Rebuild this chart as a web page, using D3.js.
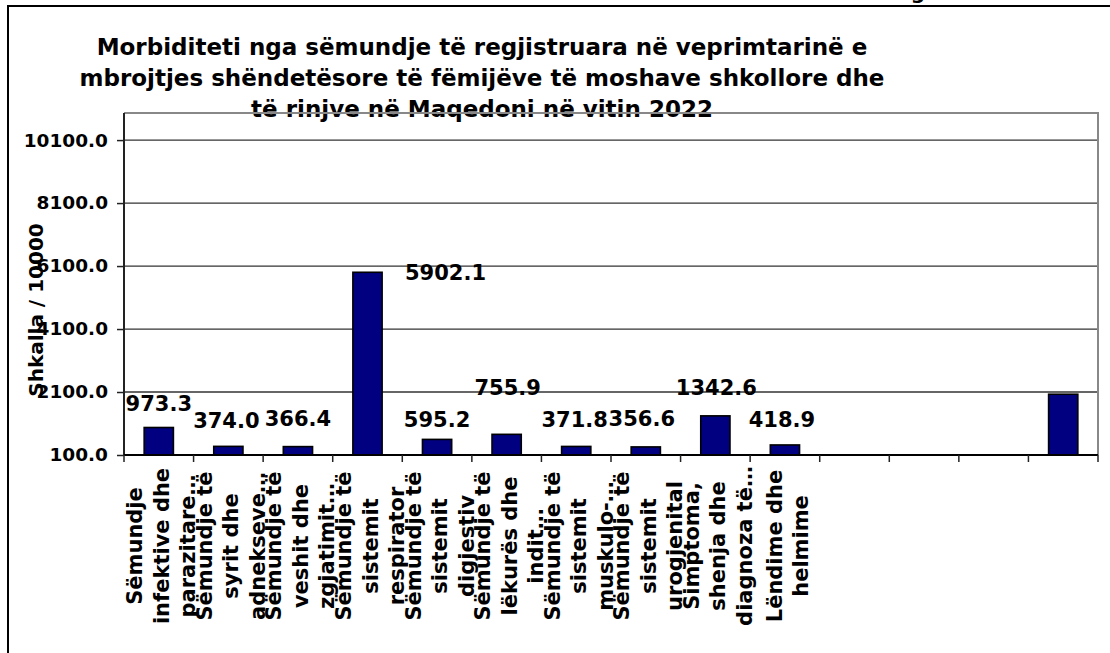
<!DOCTYPE html>
<html lang="sq">
<head>
  <meta charset="UTF-8">
  <title>Morbiditeti 2022</title>
  <script src="https://d3js.org/d3.v7.min.js"></script>
  <style>
    body { margin: 0; background: #fff; }
    svg text { font-family: "DejaVu Sans", Verdana, sans-serif; font-weight: bold; fill: #000; }
  </style>
</head>
<body>
<div id="chartID"></div>
<script>
  // data
  var categories = [
    ["Sëmundje", "infektive dhe", "parazitare…"],
    ["Sëmundje të", "syrit dhe", "adnekseve…"],
    ["Sëmundje të", "veshit dhe", "zgjatimit…"],
    ["Sëmundje të", "sistemit", "respirator"],
    ["Sëmundje të", "sistemit", "digjestiv"],
    ["Sëmundje të", "lëkurës dhe", "indit…"],
    ["Sëmundje të", "sistemit", "muskulo-…"],
    ["Sëmundje të", "sistemit", "urogjenital"],
    ["Simptoma,", "shenja dhe", "diagnoza të…"],
    ["Lëndime dhe", "helmime"],
    [], [], [], []
  ];
  var values = [973.3, 374.0, 366.4, 5902.1, 595.2, 755.9, 371.8, 356.6, 1342.6, 418.9, null, null, null, 2030];
  var showLabel = [true, true, true, true, true, true, true, true, true, true, false, false, false, false];
  var yTicks = [100, 2100, 4100, 6100, 8100, 10100];
  var yMax = 10960;
  var titleLines = [
    "Morbiditeti nga sëmundje të regjistruara në veprimtarinë e",
    "mbrojtjes shëndetësore të fëmijëve të moshave shkollore dhe",
    "të rinjve në Maqedoni në vitin 2022"
  ];
  var yTitle = "Shkalla / 10000";

  // label nudges [dx, dy] from the top centre of each bar (layout only)
  var labelNudge = [[0, -24], [-2, -26], [0, -28], [78, 0], [0, -20], [1, -47], [-1.5, -27.5], [-4, -28], [1, -28.5], [-3, -26]];

  var W = 1110, H = 653;
  var plot = {left: 124, right: 1098, top: 113, bottom: 455};

  var svg = d3.select("#chartID").append("svg")
    .attr("width", W)
    .attr("height", H);

  // outer frame (runs off the right and bottom)
  svg.append("rect")
    .attr("x", 8).attr("y", 6)
    .attr("width", 1200).attr("height", 800)
    .attr("fill", "#fff")
    .attr("stroke", "#000")
    .attr("stroke-width", 2);

  // bit of text cut off at the top edge
  svg.append("text")
    .attr("x", 918).attr("y", -1)
    .attr("text-anchor", "middle")
    .style("font-size", "20px")
    .text("g");

  var xScale = d3.scaleBand()
    .domain(d3.range(categories.length))
    .range([plot.left, plot.right])
    .paddingInner(0.58)
    .paddingOuter(0.29);

  var yScale = d3.scaleLinear()
    .domain([100, yMax])
    .range([plot.bottom, plot.top]);

  // title
  svg.append("g").selectAll("text")
    .data(titleLines)
    .enter()
    .append("text")
    .attr("x", 482)
    .attr("y", function(d, i) { return 55 + i * 31; })
    .attr("text-anchor", "middle")
    .style("font-size", "23px")
    .text(function(d) { return d; });

  // gridlines
  svg.append("g")
    .selectAll("line")
    .data(yTicks.slice(1))
    .enter()
    .append("line")
    .attr("x1", plot.left).attr("x2", plot.right)
    .attr("y1", function(d) { return yScale(d); })
    .attr("y2", function(d) { return yScale(d); })
    .attr("stroke", "#333")
    .attr("stroke-width", 1.3);

  // plot border top / right
  svg.append("path")
    .attr("d", "M" + plot.left + "," + plot.top + "H" + plot.right + "V" + plot.bottom)
    .attr("fill", "none")
    .attr("stroke", "#888")
    .attr("stroke-width", 2);

  // y axis
  var yAxis = d3.axisLeft(yScale)
    .tickValues(yTicks)
    .tickSize(7)
    .tickPadding(9)
    .tickFormat(function(d) { return d3.format(".1f")(d); });

  var yAxis_g = svg.append("g")
    .attr("transform", "translate(" + plot.left + ",0)")
    .call(yAxis);
  yAxis_g.select(".domain").attr("stroke", "#222").attr("stroke-width", 2)
    .attr("d", "M0," + plot.top + "V" + plot.bottom);
  yAxis_g.selectAll(".tick line").attr("stroke", "#222").attr("stroke-width", 1.5);
  yAxis_g.selectAll("text")
    .style("font-size", "18.5px")
    .style("font-family", "'DejaVu Sans', Verdana, sans-serif")
    .style("font-weight", "bold")
    .attr("fill", "#111");

  // y title
  svg.append("text")
    .attr("transform", "translate(43,310) rotate(-90)")
    .attr("text-anchor", "middle")
    .style("font-size", "20px")
    .text(yTitle);

  // bars
  svg.append("g")
    .selectAll(".bar")
    .data(values.map(function(v, i) { return {i: i, v: v}; }).filter(function(d) { return d.v != null; }))
    .enter()
    .append("rect")
    .attr("class", "bar")
    .attr("x", function(d) { return xScale(d.i); })
    .attr("width", xScale.bandwidth())
    .attr("y", function(d) { return yScale(d.v); })
    .attr("height", function(d) { return plot.bottom - yScale(d.v); })
    .attr("fill", "#000080")
    .attr("stroke", "#000")
    .attr("stroke-width", 1.6);

  // x axis: ticks on category edges
  var step = xScale.step();
  var edges = d3.range(categories.length + 1).map(function(k) { return plot.left + k * step; });
  svg.append("line")
    .attr("x1", plot.left).attr("x2", plot.right)
    .attr("y1", plot.bottom).attr("y2", plot.bottom)
    .attr("stroke", "#000").attr("stroke-width", 2);
  svg.append("g").selectAll("line")
    .data(edges)
    .enter()
    .append("line")
    .attr("x1", function(d) { return d; }).attr("x2", function(d) { return d; })
    .attr("y1", plot.bottom).attr("y2", plot.bottom + 7)
    .attr("stroke", "#222").attr("stroke-width", 1.5);

  // category labels, rotated, several lines each
  var cat_g = svg.append("g").selectAll("g")
    .data(categories)
    .enter()
    .append("g")
    .attr("transform", function(d, i) {
      return "translate(" + (xScale(i) + xScale.bandwidth() / 2 + 2.5) + ",546) rotate(-90)";
    });
  cat_g.selectAll("text")
    .data(function(d) { return d.map(function(t, j) { return {t: t, off: (j - (d.length - 1) / 2) * 26.5}; }); })
    .enter()
    .append("text")
    .attr("x", 0)
    .attr("y", function(d) { return d.off; })
    .attr("dy", "0.36em")
    .attr("text-anchor", "middle")
    .style("font-size", "21px")
    .text(function(d) { return d.t; });

  // value labels
  svg.append("g").selectAll("text")
    .data(values.map(function(v, i) { return {i: i, v: v}; }).filter(function(d) { return showLabel[d.i]; }))
    .enter()
    .append("text")
    .attr("x", function(d) { return xScale(d.i) + xScale.bandwidth() / 2 + labelNudge[d.i][0]; })
    .attr("y", function(d) { return yScale(d.v) + labelNudge[d.i][1]; })
    .attr("dy", "0.36em")
    .attr("text-anchor", "middle")
    .style("font-size", "21px")
    .text(function(d) { return d3.format(".1f")(d.v); });
</script>
</body>
</html>
